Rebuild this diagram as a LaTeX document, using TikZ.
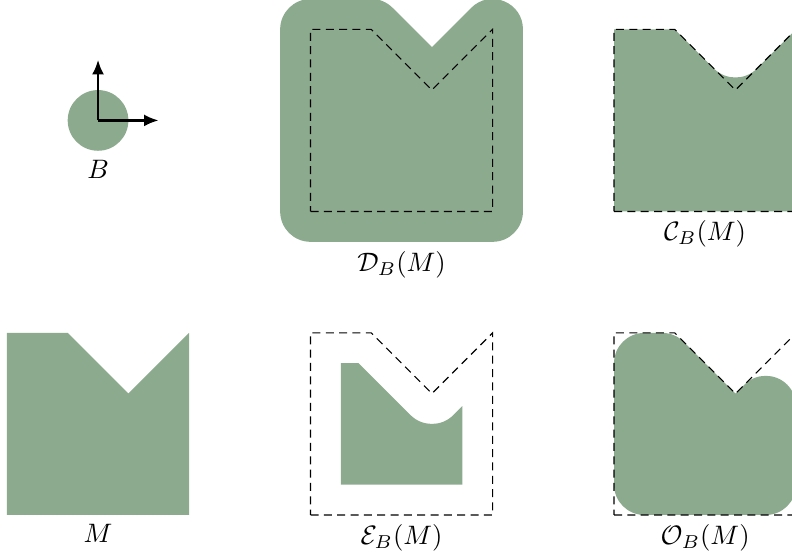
\documentclass[tikz,border=0pt]{standalone}
\usetikzlibrary{arrows.meta}
\definecolor{shapegreen}{RGB}{140,170,142}
\begin{document}
\begin{tikzpicture}[x=0.8cm,y=0.8cm,
  region/.style={fill=shapegreen,draw=none},
  outline/.style={densely dashed,line width=0.4pt,black},
  axis/.style={line width=1pt,-{Latex[length=5.5pt,width=4.5pt]}},
  lbl/.style={below,inner sep=3.3pt}]
\useasboundingbox (-0.115,-0.725) rectangle (12.932,8.484);
\clip (-0.115,-0.725) rectangle (12.932,8.484);
\def\Mpath{(0,0) -- (3,0) -- (3,3) -- (2,2) -- (1,3) -- (0,3) -- cycle}
% structuring element B
\coordinate (bc) at (1.5,6.5);
\coordinate (bx) at (2.5,6.5);
\coordinate (by) at (1.5,7.5);
\fill[shapegreen] (bc) circle[radius=0.5];
\draw[axis] (bc) -- (by);
\draw[axis] (bc) -- (bx);
\node[lbl] (lB) at (1.5,6) {$B$};
% dilation
\begin{scope}[shift={(5,5)}]
  \path[fill=shapegreen,draw=shapegreen,line width=0.8cm,line join=round] \Mpath;
  \draw[outline] \Mpath;
  \node[lbl] (lD) at (1.5,-0.5) {$\mathcal{D}_B(M)$};
\end{scope}
% closing
\begin{scope}[shift={(10,5)}]
  \fill[shapegreen] (0,0) -- (3,0) -- (3,3) -- (2.3536,2.3536)
     arc[start angle=-45,end angle=-135,radius=0.5] -- (1,3) -- (0,3) -- cycle;
  \draw[outline] \Mpath;
  \node[lbl] (lC) at (1.5,0) {$\mathcal{C}_B(M)$};
\end{scope}
% original
\begin{scope}[shift={(0,0)}]
  \fill[shapegreen] \Mpath;
  \node[lbl] (lM) at (1.5,0) {$M$};
\end{scope}
% erosion
\begin{scope}[shift={(5,0)}]
  \fill[shapegreen] (0.5,0.5) -- (2.5,0.5) -- (2.5,1.7929) -- (2.3536,1.6464)
     arc[start angle=-45,end angle=-135,radius=0.5] -- (0.7929,2.5) -- (0.5,2.5) -- cycle;
  \draw[outline] \Mpath;
  \node[lbl] (lE) at (1.5,0) {$\mathcal{E}_B(M)$};
\end{scope}
% opening
\begin{scope}[shift={(10,0)}]
  \fill[shapegreen] (0,0.5) -- (0,2.5) arc[start angle=180,end angle=90,radius=0.5]
     -- (0.7929,3) arc[start angle=90,end angle=45,radius=0.5]
     -- (2,2) -- (2.1464,2.1464) arc[start angle=135,end angle=0,radius=0.5]
     -- (3,0.5) arc[start angle=0,end angle=-90,radius=0.5]
     -- (0.5,0) arc[start angle=270,end angle=180,radius=0.5] -- cycle;
  \draw[outline] \Mpath;
  \node[lbl] (lO) at (1.5,0) {$\mathcal{O}_B(M)$};
\end{scope}
\end{tikzpicture}
\end{document}
